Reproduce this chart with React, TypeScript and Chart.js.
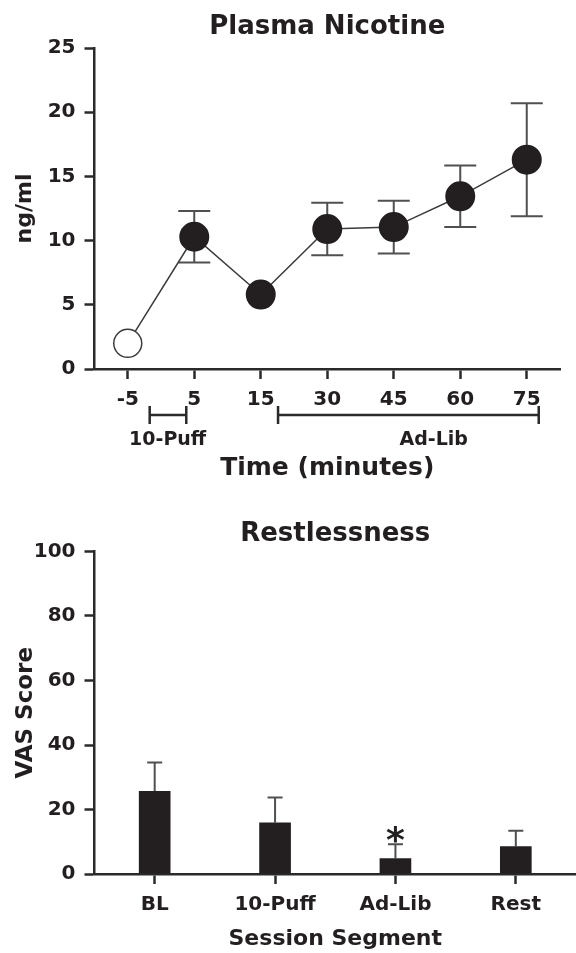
import React, { useEffect, useRef } from 'react';
import { Chart, registerables } from 'chart.js';

Chart.register(...registerables);

// ---------- data: Plasma Nicotine ----------
const timeLabels = ['-5', '5', '15', '30', '45', '60', '75'];
const nicotineMean = [2.0, 10.3, 5.8, 10.9, 11.05, 13.45, 16.3];
// null = error bar hidden behind the marker
const nicotineSem: (number | null)[] = [null, 2.0, null, 2.05, 2.05, 2.4, 4.4];
const nicotineOpen = [true, false, false, false, false, false, false];

// session phases, in category-index units along the time axis
const phaseLabels = ['10-Puff', 'Ad-Lib'];
const phaseStart = [0.33, 2.26];
const phaseEnd = [0.88, 6.18];
const phaseLabelAt = [0.6, 4.6];

// ---------- data: Restlessness ----------
const segments = ['BL', '10-Puff', 'Ad-Lib', 'Rest'];
const vasMean = [25.7, 16.0, 4.9, 8.6];
const vasSem = [8.9, 7.7, 4.3, 4.8];
const vasSignificant = [false, false, true, false];

// ---------- styling ----------
const FONT = "'DejaVu Sans', sans-serif";
const INK = '#231f20';
const AXIS = '#2a2a2a';
const ERR = '#505050';

Chart.defaults.font.family = FONT;
Chart.defaults.color = INK;

const axisCommon = (tickPad: number) => ({
  grid: {
    display: true,
    drawOnChartArea: false,
    drawTicks: true,
    tickLength: 10,
    tickWidth: 2.5,
    tickColor: AXIS,
    offset: false,
  },
  border: { display: true, color: AXIS, width: 2.5 },
  ticks: {
    color: INK,
    padding: tickPad,
    font: { family: FONT, size: 20, weight: 'bold' as const },
  },
});

const nicotineErrors = {
  id: 'nicotineErrors',
  beforeDatasetsDraw(chart: any) {
    const { ctx, scales } = chart;
    const x = scales.x;
    const y = scales.y;
    ctx.save();
    ctx.strokeStyle = ERR;
    ctx.lineWidth = 2;
    nicotineMean.forEach((m, i) => {
      const s = nicotineSem[i];
      if (s == null) return;
      const px = x.getPixelForValue(i);
      const top = y.getPixelForValue(m + s);
      const bot = y.getPixelForValue(m - s);
      ctx.beginPath();
      ctx.moveTo(px, top);
      ctx.lineTo(px, bot);
      ctx.moveTo(px - 16, top);
      ctx.lineTo(px + 16, top);
      ctx.moveTo(px - 16, bot);
      ctx.lineTo(px + 16, bot);
      ctx.stroke();
    });
    ctx.restore();
  },
};

const phaseBrackets = {
  id: 'phaseBrackets',
  afterDraw(chart: any) {
    const { ctx, scales } = chart;
    const x = scales.x;
    const yLine = chart.chartArea.bottom + 46;
    ctx.save();
    ctx.strokeStyle = AXIS;
    ctx.lineWidth = 2.5;
    ctx.fillStyle = INK;
    ctx.font = `bold 19px ${FONT}`;
    ctx.textAlign = 'center';
    ctx.textBaseline = 'middle';
    phaseLabels.forEach((lab, i) => {
      const a = x.getPixelForValue(phaseStart[i]);
      const b = x.getPixelForValue(phaseEnd[i]);
      ctx.beginPath();
      ctx.moveTo(a, yLine);
      ctx.lineTo(b, yLine);
      ctx.moveTo(a, yLine - 9);
      ctx.lineTo(a, yLine + 9);
      ctx.moveTo(b, yLine - 9);
      ctx.lineTo(b, yLine + 9);
      ctx.stroke();
      ctx.fillText(lab, x.getPixelForValue(phaseLabelAt[i]), yLine + 25);
    });
    ctx.restore();
  },
};

const vasErrors = {
  id: 'vasErrors',
  beforeDatasetsDraw(chart: any) {
    const { ctx, scales } = chart;
    const x = scales.x;
    const y = scales.y;
    ctx.save();
    ctx.strokeStyle = ERR;
    ctx.lineWidth = 2;
    vasMean.forEach((m, i) => {
      const px = x.getPixelForValue(i);
      const top = y.getPixelForValue(m + vasSem[i]);
      const base = y.getPixelForValue(m);
      ctx.beginPath();
      ctx.moveTo(px, base);
      ctx.lineTo(px, top);
      ctx.moveTo(px - 7.5, top);
      ctx.lineTo(px + 7.5, top);
      ctx.stroke();
    });
    ctx.restore();
  },
  afterDatasetsDraw(chart: any) {
    const { ctx, scales } = chart;
    const x = scales.x;
    const y = scales.y;
    ctx.save();
    ctx.fillStyle = INK;
    ctx.font = `bold 36px ${FONT}`;
    ctx.textAlign = 'center';
    ctx.textBaseline = 'alphabetic';
    vasMean.forEach((m, i) => {
      if (!vasSignificant[i]) return;
      const px = x.getPixelForValue(i);
      const top = y.getPixelForValue(m + vasSem[i]);
      ctx.fillText('*', px, top + 7.5);
    });
    ctx.restore();
  },
};

export default function App() {
  const c1 = useRef<HTMLCanvasElement>(null);
  const c2 = useRef<HTMLCanvasElement>(null);

  useEffect(() => {
    const ch1 = new Chart(c1.current as HTMLCanvasElement, {
      type: 'line',
      data: {
        labels: timeLabels,
        datasets: [
          {
            data: nicotineMean,
            borderColor: '#3c3c3c',
            borderWidth: 1.5,
            tension: 0,
            pointRadius: 14,
            pointHoverRadius: 14,
            pointBackgroundColor: nicotineOpen.map((o) => (o ? '#ffffff' : INK)),
            pointBorderColor: nicotineOpen.map((o) => (o ? '#3c3c3c' : INK)),
            pointBorderWidth: nicotineOpen.map((o) => (o ? 1.5 : 2)),
          },
        ],
      },
      options: {
        responsive: false,
        animation: false,
        layout: { padding: { left: 0, right: -2, top: 0, bottom: 0 } },
        plugins: {
          legend: { display: false },
          tooltip: { enabled: false },
          title: {
            display: true,
            fullSize: false,
            text: 'Plasma Nicotine',
            color: INK,
            font: { family: FONT, size: 26, weight: 'bold' },
            padding: { top: 11.5, bottom: 5.3 },
          },
        },
        scales: {
          x: {
            type: 'category',
            offset: true,
            ...axisCommon(9),
            title: {
              display: true,
              text: 'Time (minutes)',
              color: INK,
              font: { family: FONT, size: 25, weight: 'bold' },
              padding: { top: 0, bottom: 7 },
            },
            afterFit: (s: any) => {
              s.height = 121;
            },
          },
          y: {
            min: 0,
            max: 25,
            ...axisCommon(9),
            ticks: { ...axisCommon(9).ticks, stepSize: 5 },
            title: {
              display: true,
              text: 'ng/ml',
              color: INK,
              font: { family: FONT, size: 22, weight: 'bold' },
              padding: { top: 12, bottom: 0 },
            },
            afterFit: (s: any) => {
              s.width = 94.5;
            },
          },
        },
      } as any,
      plugins: [nicotineErrors, phaseBrackets],
    });

    const ch2 = new Chart(c2.current as HTMLCanvasElement, {
      type: 'bar',
      data: {
        labels: segments,
        datasets: [
          {
            data: vasMean,
            backgroundColor: INK,
            borderWidth: 0,
            barPercentage: 0.263,
            categoryPercentage: 1.0,
          },
        ],
      },
      options: {
        responsive: false,
        animation: false,
        layout: { padding: { left: 0, right: -2, top: 0, bottom: 0 } },
        plugins: {
          legend: { display: false },
          tooltip: { enabled: false },
          title: {
            display: true,
            fullSize: false,
            text: 'Restlessness',
            color: INK,
            font: { family: FONT, size: 26, weight: 'bold' },
            padding: { top: 28.4, bottom: 1.9 },
          },
        },
        scales: {
          x: {
            type: 'category',
            offset: true,
            ...axisCommon(9),
            title: {
              display: true,
              text: 'Session Segment',
              color: INK,
              font: { family: FONT, size: 22, weight: 'bold' },
              padding: { top: 0, bottom: 0.8 },
            },
            afterFit: (s: any) => {
              s.height = 79;
            },
          },
          y: {
            min: 0,
            max: 100,
            ...axisCommon(9),
            ticks: { ...axisCommon(9).ticks, stepSize: 20 },
            title: {
              display: true,
              text: 'VAS Score',
              color: INK,
              font: { family: FONT, size: 23, weight: 'bold' },
              padding: { top: 12, bottom: 0 },
            },
            afterFit: (s: any) => {
              s.width = 94.5;
            },
          },
        },
      } as any,
      plugins: [vasErrors],
    });

    return () => {
      ch1.destroy();
      ch2.destroy();
    };
  }, []);

  return (
    <div
      style={{
        position: 'absolute',
        left: 0,
        top: 0,
        width: 576,
        height: 953,
        background: '#ffffff',
        overflow: 'hidden',
      }}
    >
      <canvas
        ref={c1}
        width={576}
        height={490}
        style={{ position: 'absolute', left: 0, top: 0, display: 'block' }}
      />
      <canvas
        ref={c2}
        width={576}
        height={463}
        style={{ position: 'absolute', left: 0, top: 490, display: 'block' }}
      />
    </div>
  );
}
